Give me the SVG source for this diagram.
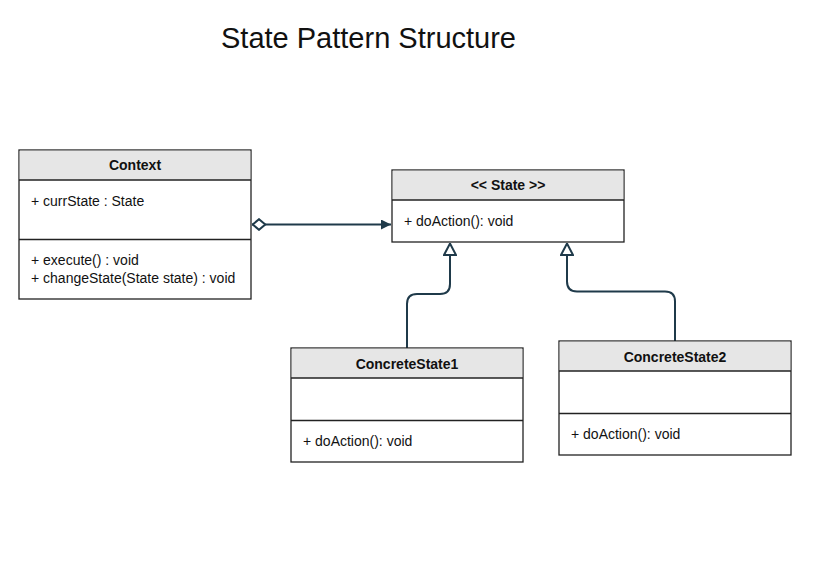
<svg xmlns="http://www.w3.org/2000/svg" width="828" height="575" viewBox="0 0 828 575">
<style>
.box{fill:#ffffff;stroke:#222;stroke-width:1.3}
.hdr{fill:#e6e6e6;stroke:none}
.div{stroke:#222;stroke-width:1.3}
.t{font-family:"Liberation Sans",Arial,sans-serif;font-size:14px;fill:#111}
.b{font-weight:bold;text-anchor:middle}
.c{fill:none;stroke:#1f3a4a;stroke-width:2}
</style>
<defs>
<marker id="arrow" viewBox="0 0 10 10" refX="10" refY="5" markerWidth="10" markerHeight="10" markerUnits="userSpaceOnUse" orient="auto">
<path d="M0,0 L10,5 L0,10 Z" fill="#1f3a4a"/>
</marker>
<marker id="diamond" viewBox="0 0 15 13" refX="0.5" refY="6.5" markerWidth="15" markerHeight="13" markerUnits="userSpaceOnUse" orient="auto">
<path d="M1.2,6.5 L7.5,1.2 L13.8,6.5 L7.5,11.8 Z" fill="#fff" stroke="#1f3a4a" stroke-width="2"/>
</marker>
<marker id="tri" viewBox="0 0 14 14" refX="13" refY="7" markerWidth="14" markerHeight="14" markerUnits="userSpaceOnUse" orient="auto">
<path d="M1.5,1 L13,7 L1.5,13 Z" fill="#fff" stroke="#1f3a4a" stroke-width="2"/>
</marker>
</defs>
<rect width="828" height="575" fill="#fff"/>
<text x="221" y="48" font-family="Liberation Sans,Arial,sans-serif" font-size="29" fill="#111">State Pattern Structure</text>
<g id="connectors">
<path class="c" d="M252,224.5 L391,224.5" marker-start="url(#diamond)" marker-end="url(#arrow)"/>
<path class="c" d="M407,348 L407,304 Q407,294 417,294 L440,294 Q450,294 450,284 L450,243.5" marker-end="url(#tri)"/>
<path class="c" d="M675,341 L675,301.5 Q675,291.5 665,291.5 L577,291.5 Q567,291.5 567,281.5 L567,243.5" marker-end="url(#tri)"/>
</g>
<g id="context">
<rect class="box" x="19" y="150" width="232" height="149"/>
<rect class="hdr" x="19.7" y="150.7" width="230.6" height="29.3"/>
<line class="div" x1="19" y1="180" x2="251" y2="180"/>
<line class="div" x1="19" y1="239.5" x2="251" y2="239.5"/>
<text class="t b" x="135" y="169.5">Context</text>
<text class="t" x="31" y="205.5">+ currState : State</text>
<text class="t" x="31" y="264.5">+ execute() : void</text>
<text class="t" x="31" y="282.5">+ changeState(State state) : void</text>
</g>
<g id="state">
<rect class="box" x="392" y="170" width="232" height="72"/>
<rect class="hdr" x="392.7" y="170.7" width="230.6" height="29.3"/>
<line class="div" x1="392" y1="200" x2="624" y2="200"/>
<text class="t b" x="508" y="189.5">&lt;&lt; State &gt;&gt;</text>
<text class="t" x="404" y="225.5">+ doAction(): void</text>
</g>
<g id="concretestate1">
<rect class="box" x="291" y="348" width="232" height="114"/>
<rect class="hdr" x="291.7" y="348.7" width="230.6" height="29.3"/>
<line class="div" x1="291" y1="378" x2="523" y2="378"/>
<line class="div" x1="291" y1="420.5" x2="523" y2="420.5"/>
<text class="t b" x="407" y="368.5">ConcreteState1</text>
<text class="t" x="303" y="445.5">+ doAction(): void</text>
</g>
<g id="concretestate2">
<rect class="box" x="559" y="341" width="232" height="114"/>
<rect class="hdr" x="559.7" y="341.7" width="230.6" height="29.3"/>
<line class="div" x1="559" y1="371" x2="791" y2="371"/>
<line class="div" x1="559" y1="413.5" x2="791" y2="413.5"/>
<text class="t b" x="675" y="361.5">ConcreteState2</text>
<text class="t" x="571" y="438.5">+ doAction(): void</text>
</g>
</svg>
